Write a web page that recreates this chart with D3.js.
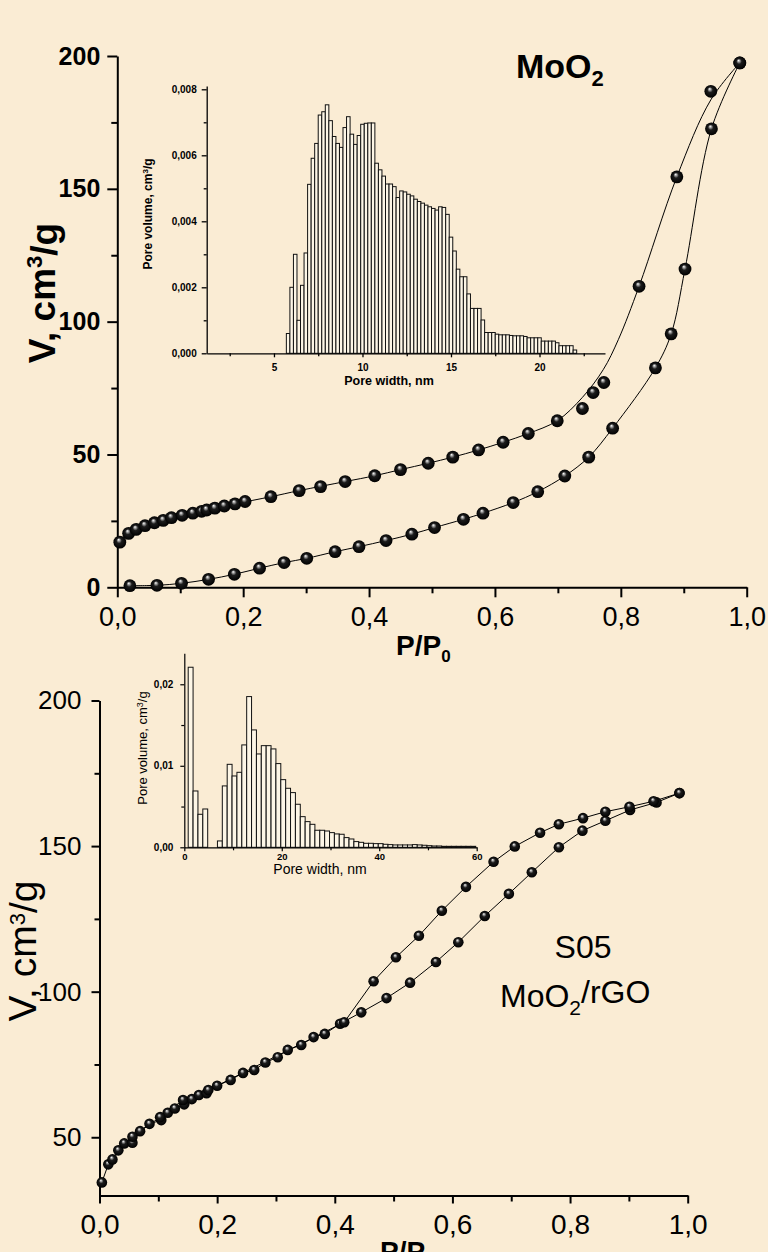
<!DOCTYPE html>
<html>
<head>
<meta charset="utf-8">
<script src="https://cdn.jsdelivr.net/npm/d3@7"></script>
<style>
  html, body { margin: 0; padding: 0; background: #faecd4; }
  svg { display: block; }
  text { font-family: "Liberation Sans", Arial, Helvetica, sans-serif; fill: #000; }
</style>
</head>
<body>
<svg id="fig" width="768" height="1252"></svg>
<script>
// ---------- MoO2 nitrogen isotherm (upper panel) ----------
const moo2AdsP = [0.020, 0.063, 0.102, 0.145, 0.186, 0.226, 0.265, 0.301, 0.346, 0.384, 0.427, 0.468, 0.504,
                  0.550, 0.581, 0.629, 0.668, 0.711, 0.749, 0.787, 0.855, 0.880, 0.902, 0.944, 0.989];
const moo2AdsV = [0.6, 0.75, 1.5, 3.0, 4.9, 7.2, 9.3, 10.9, 13.4, 15.3, 17.6, 20.0, 22.5,
                  25.6, 27.9, 31.9, 36.0, 41.9, 49.0, 59.9, 82.6, 95.4, 119.8, 172.6, 197.4];
const moo2DesP = [0.004, 0.018, 0.030, 0.044, 0.059, 0.073, 0.086, 0.103, 0.120, 0.134, 0.142, 0.155, 0.170,
                  0.187, 0.203, 0.244, 0.289, 0.323, 0.362, 0.409, 0.450, 0.494, 0.533, 0.574, 0.613, 0.653,
                  0.699, 0.739, 0.756, 0.773, 0.829, 0.889, 0.943, 0.989];
const moo2DesV = [17.0, 20.3, 21.8, 23.2, 24.3, 25.2, 26.2, 27.1, 27.9, 28.6, 29.1, 29.8, 30.6,
                  31.4, 32.3, 34.1, 36.4, 37.9, 39.8, 42.0, 44.3, 46.7, 49.0, 51.7, 54.6, 57.9,
                  62.7, 67.3, 73.3, 77.1, 113.3, 154.5, 186.7, 197.4];
// smoothed desorption branch
const moo2DesFitP = [0.0, 0.018, 0.044, 0.073, 0.103, 0.142, 0.187, 0.244, 0.289, 0.362, 0.409, 0.450, 0.494,
                     0.533, 0.574, 0.613, 0.653, 0.699, 0.739, 0.772, 0.796, 0.829, 0.889, 0.943, 0.989];
const moo2DesFitV = [17.0, 20.3, 23.2, 25.2, 27.1, 29.1, 31.4, 34.1, 36.4, 39.8, 42.0, 44.3, 46.7,
                     49.0, 51.7, 54.6, 57.9, 62.7, 71.5, 81.9, 93.2, 113.3, 154.5, 183.5, 197.4];

// MoO2 pore size distribution (0.2 nm bins, centres)
const moo2PoreWidth = d3.range(82).map(i => +(5.8 + 0.2 * i).toFixed(1));
const moo2PoreVol = [0.60, 2.00, 3.00, 1.00, 2.06, 3.04, 5.12, 5.91, 6.36, 7.22, 7.32, 7.53, 7.05, 6.57, 6.36, 6.24,
                     6.84, 7.17, 6.64, 6.33, 6.60, 6.94, 6.97, 6.98, 6.98, 5.76, 5.56, 5.37, 5.13, 5.13, 5.05, 4.72,
                     4.92, 4.89, 4.82, 4.77, 4.67, 4.60, 4.55, 4.49, 4.44, 4.39, 4.34, 4.44, 4.42, 4.21, 3.52, 3.10,
                     2.55, 2.32, 2.32, 1.80, 1.36, 1.36, 1.36, 1.01, 0.63, 0.63, 0.63, 0.58, 0.56, 0.56, 0.56, 0.54,
                     0.53, 0.53, 0.53, 0.51, 0.47, 0.47, 0.47, 0.47, 0.37, 0.37, 0.37, 0.37, 0.32, 0.23, 0.23, 0.23,
                     0.23, 0.10].map(v => v / 1000);

// ---------- S05 MoO2/rGO isotherm (lower panel) ----------
const s05AdsP = [0.004, 0.015, 0.032, 0.042, 0.056, 0.069, 0.085, 0.105, 0.116, 0.128, 0.144, 0.157, 0.169,
                 0.182, 0.200, 0.223, 0.244, 0.263, 0.282, 0.303, 0.320, 0.343, 0.364, 0.383, 0.409, 0.445,
                 0.488, 0.528, 0.572, 0.610, 0.655, 0.696, 0.735, 0.781, 0.821, 0.860, 0.902, 0.947, 0.986];
const s05AdsV = [34.5, 40.7, 45.5, 47.9, 48.1, 52.1, 54.6, 55.9, 58.4, 59.9, 61.3, 63.1, 64.5,
                 65.1, 67.7, 69.7, 72.1, 73.1, 75.7, 77.5, 80.0, 81.7, 84.4, 85.5, 89.0, 92.9,
                 97.8, 103.1, 110.2, 117.0, 126.0, 133.6, 141.0, 149.6, 155.3, 158.7, 162.4, 165.0, 168.2];
const s05DesP = [0.986, 0.942, 0.901, 0.860, 0.822, 0.781, 0.749, 0.706, 0.670, 0.623, 0.582, 0.543, 0.504,
                 0.466, 0.416, 0.185, 0.142, 0.103, 0.056, 0.022];
const s05DesV = [168.2, 165.4, 163.5, 161.8, 159.6, 157.5, 154.6, 149.9, 144.6, 136.0, 127.8, 119.2, 111.8,
                 103.6, 89.5, 66.2, 62.8, 56.9, 50.2, 42.4];

// S05 pore size distribution (1 nm bins, centres)
const s05PoreWidth = d3.range(59).map(i => +(1.3 + i).toFixed(1));
const s05PoreVol = [22.09, 6.91, 4.05, 4.70, 0, 0, 0.78, 7.53, 10.18, 8.75, 9.20, 12.56, 18.49, 14.40, 11.45,
                    12.47, 12.47, 12.07, 10.27, 8.30, 7.24, 6.71, 5.28, 3.76, 3.15, 2.82, 2.09, 2.09, 2.00, 1.80,
                    1.64, 1.60, 1.19, 1.02, 0.70, 0.61, 0.49, 0.49, 0.45, 0.45, 0.37, 0.33, 0.29, 0.29, 0.29,
                    0.29, 0.33, 0.29, 0.25, 0.20, 0.16, 0.16, 0.12, 0.12, 0.12, 0.12, 0.12, 0.12, 0.12]
                    .map(v => v / 1000);

// ---------- tick values ----------
const pTicks = [0, 0.2, 0.4, 0.6, 0.8, 1.0];
const pMinor = [0.1, 0.3, 0.5, 0.7, 0.9];
const topVTicks = [0, 50, 100, 150, 200];
const topVMinor = [25, 75, 125, 175];
const botVTicks = [50, 100, 150, 200];
const botVMinor = [75, 125, 175];
const in1XTicks = [5, 10, 15, 20];
const in1XMinor = [2.5, 7.5, 12.5, 17.5, 22.5];
const in1YTicks = [0, 0.002, 0.004, 0.006, 0.008];
const in1YMinor = [0.001, 0.003, 0.005, 0.007];
const in2XTicks = [0, 20, 40, 60];
const in2XMinor = [10, 30, 50];
const in2YTicks = [0, 0.01, 0.02];
const in2YMinor = [0.005, 0.015];

// ---------- helpers ----------
const loc = d3.formatLocale({decimal: ",", thousands: " ", grouping: [3], currency: ["", ""]});
const f1 = loc.format(".1f"), f2 = loc.format(".2f"), f3 = loc.format(".3f");
const FONT = '"Liberation Sans", Arial, Helvetica, sans-serif';
const NBSP = "\u00A0";

const svg = d3.select("#fig");
svg.append("rect").attr("width", 768).attr("height", 1252).attr("fill", "#faecd4");

const defs = svg.append("defs");
const grad = defs.append("radialGradient").attr("id", "ball")
  .attr("cx", "50%").attr("cy", "50%").attr("r", "50%").attr("fx", "40%").attr("fy", "30%");
grad.append("stop").attr("offset", "0%").attr("stop-color", "#ffffff");
grad.append("stop").attr("offset", "16%").attr("stop-color", "#a8a8a8");
grad.append("stop").attr("offset", "42%").attr("stop-color", "#1c1c1c");
grad.append("stop").attr("offset", "100%").attr("stop-color", "#000000");

function drawAxis(parent, gen, o) {
  const g = parent.append("g").attr("transform", `translate(${o.x || 0},${o.y || 0})`).call(gen);
  g.attr("font-size", null).attr("font-family", null);
  g.select(".domain").attr("stroke", "#000").attr("stroke-width", o.lw);
  if (o.noDomain) g.select(".domain").remove();
  g.selectAll(".tick line").attr("stroke", "#000").attr("stroke-width", o.lw);
  g.selectAll(".tick text").attr("fill", "#000")
    .style("font-family", FONT)
    .style("font-size", (o.fs || 10) + "px")
    .style("font-weight", o.bold ? "bold" : "normal");
  return g;
}

function superText(parent, x, y, rotate, parts, fs, weight, anchor) {
  const t = parent.append("text")
    .attr("transform", `translate(${x},${y})` + (rotate ? ` rotate(${rotate})` : ""))
    .attr("text-anchor", anchor || "middle")
    .style("font-size", fs + "px").style("font-weight", weight);
  parts.forEach(p => {
    const s = t.append("tspan").text(p.t);
    if (p.size) s.style("font-size", p.size + "px");
    if (p.dy) s.attr("dy", p.dy);
  });
  return t;
}

// ================= upper panel: MoO2 =================
const xTop = d3.scaleLinear().domain([0, 1]).range([117.3, 746.7]);
const yTop = d3.scaleLinear().domain([0, 200]).range([587.3, 56]);
const upper = svg.append("g");

drawAxis(upper, d3.axisBottom(xTop).tickValues(pMinor).tickSize(6).tickFormat(""), {y: 587.3, lw: 2, noDomain: true});
drawAxis(upper, d3.axisLeft(yTop).tickValues(topVMinor).tickSize(6).tickFormat(""), {x: 117.3, lw: 2, noDomain: true});
drawAxis(upper, d3.axisBottom(xTop).tickValues(pTicks).tickSize(10).tickSizeOuter(0).tickPadding(10).tickFormat(f1),
  {y: 587.3, lw: 2, fs: 27});
drawAxis(upper, d3.axisLeft(yTop).tickValues(topVTicks).tickSize(10).tickSizeOuter(0).tickPadding(7).tickFormat(d3.format("d")),
  {x: 117.3, lw: 2, fs: 25, bold: true});

const lineTop = d3.line().x(d => xTop(d[0])).y(d => yTop(d[1])).curve(d3.curveCatmullRom.alpha(0.5));
upper.append("path").attr("d", lineTop(d3.zip(moo2AdsP, moo2AdsV)))
  .attr("fill", "none").attr("stroke", "#000").attr("stroke-width", 1);
upper.append("path").attr("d", lineTop(d3.zip(moo2DesFitP, moo2DesFitV)))
  .attr("fill", "none").attr("stroke", "#000").attr("stroke-width", 1);

upper.append("g").selectAll("circle")
  .data(d3.zip(moo2AdsP, moo2AdsV).concat(d3.zip(moo2DesP, moo2DesV)))
  .join("circle")
  .attr("cx", d => xTop(d[0])).attr("cy", d => yTop(d[1])).attr("r", 6.4)
  .attr("fill", "url(#ball)");

superText(upper, 55, 293, -90, [{t: "V," + NBSP + "cm"}, {t: "3", size: 22, dy: "-0.6em"}, {t: "/g", dy: "0.4em"}], 37, "bold");
superText(upper, 396, 655, 0, [{t: "P/P"}, {t: "0", size: 17, dy: "0.4em"}], 28, "bold", "start");
superText(upper, 516, 78, 0, [{t: "MoO"}, {t: "2", size: 22, dy: "0.38em"}], 34, "bold", "start");

// ---- inset: MoO2 pore size distribution ----
const xIn1 = d3.scaleLinear().domain([1.2, 23.7]).range([206.7, 605]);
const yIn1 = d3.scaleLinear().domain([0, 0.0081]).range([353.3, 86]);
const in1 = svg.append("g");
in1.append("g").selectAll("rect")
  .data(d3.zip(moo2PoreWidth, moo2PoreVol))
  .join("rect")
  .attr("x", d => xIn1(d[0] - 0.1)).attr("width", d => xIn1(d[0] + 0.1) - xIn1(d[0] - 0.1))
  .attr("y", d => yIn1(d[1])).attr("height", d => yIn1(0) - yIn1(d[1]))
  .attr("fill", "#fdf6e6").attr("stroke", "#111").attr("stroke-width", 1);
drawAxis(in1, d3.axisBottom(xIn1).tickValues(in1XMinor).tickSize(3).tickFormat(""), {y: 353.3, lw: 1.3, noDomain: true});
drawAxis(in1, d3.axisLeft(yIn1).tickValues(in1YMinor).tickSize(3).tickFormat(""), {x: 206.7, lw: 1.3, noDomain: true});
drawAxis(in1, d3.axisBottom(xIn1).tickValues(in1XTicks).tickSize(4).tickSizeOuter(0).tickPadding(7).tickFormat(d3.format("d")),
  {y: 353.3, lw: 1.3, fs: 10, bold: true});
drawAxis(in1, d3.axisLeft(yIn1).tickValues(in1YTicks).tickSize(5).tickSizeOuter(0).tickPadding(5).tickFormat(f3),
  {x: 206.7, lw: 1.3, fs: 10, bold: true});
superText(in1, 152, 214, -90, [{t: "Pore volume, cm"}, {t: "3", size: 8, dy: "-0.5em"}, {t: "/g", dy: "0.33em"}], 12, "bold");
superText(in1, 389, 385, 0, [{t: "Pore width, nm"}], 12.5, "bold");

// ================= lower panel: S05 MoO2/rGO =================
const xBot = d3.scaleLinear().domain([0, 1]).range([99.5, 687.7]);
const yBot = d3.scaleLinear().domain([30, 200]).range([1195.5, 700.5]);
const lower = svg.append("g");

drawAxis(lower, d3.axisBottom(xBot).tickValues(pMinor).tickSize(6).tickFormat(""), {y: 1195.5, lw: 2, noDomain: true});
drawAxis(lower, d3.axisLeft(yBot).tickValues(botVMinor).tickSize(5).tickFormat(""), {x: 99.5, lw: 2, noDomain: true});
drawAxis(lower, d3.axisBottom(xBot).tickValues(pTicks).tickSize(8).tickSizeOuter(0).tickPadding(11).tickFormat(f1),
  {y: 1195.5, lw: 2, fs: 28});
drawAxis(lower, d3.axisLeft(yBot).tickValues(botVTicks).tickSize(8).tickSizeOuter(0).tickPadding(10).tickFormat(d3.format("d")),
  {x: 99.5, lw: 2, fs: 26});

const lineBot = d3.line().x(d => xBot(d[0])).y(d => yBot(d[1]));
lower.append("path").attr("d", lineBot(d3.zip(s05AdsP, s05AdsV)))
  .attr("fill", "none").attr("stroke", "#000").attr("stroke-width", 1);
lower.append("path").attr("d", lineBot(d3.zip(s05DesP, s05DesV)))
  .attr("fill", "none").attr("stroke", "#000").attr("stroke-width", 1);
lower.append("g").selectAll("circle")
  .data(d3.zip(s05AdsP, s05AdsV).concat(d3.zip(s05DesP, s05DesV)))
  .join("circle")
  .attr("cx", d => xBot(d[0])).attr("cy", d => yBot(d[1])).attr("r", 5.3)
  .attr("fill", "url(#ball)");

superText(lower, 36, 951, -90, [{t: "V," + NBSP + "cm"}, {t: "3", size: 22, dy: "-0.5em"}, {t: "/g", dy: "0.3em"}], 39, "normal");
superText(lower, 380, 1261, 0, [{t: "P/P"}, {t: "0", size: 17, dy: "0.4em"}], 28, "bold", "start");
superText(lower, 583, 958, 0, [{t: "S05"}], 32, "normal");
superText(lower, 500, 1007, 0, [{t: "MoO"}, {t: "2", size: 21, dy: "0.38em"}, {t: "/rGO", dy: "-0.38em"}], 32, "normal", "start");

// ---- inset: S05 pore size distribution ----
const xIn2 = d3.scaleLinear().domain([0, 60]).range([184.3, 476.7]);
const yIn2 = d3.scaleLinear().domain([0, 0.0238]).range([847.3, 653.3]);
const in2 = svg.append("g");
in2.append("g").selectAll("rect")
  .data(d3.zip(s05PoreWidth, s05PoreVol))
  .join("rect")
  .attr("x", d => xIn2(d[0] - 0.5)).attr("width", d => xIn2(d[0] + 0.5) - xIn2(d[0] - 0.5))
  .attr("y", d => yIn2(d[1])).attr("height", d => yIn2(0) - yIn2(d[1]))
  .attr("fill", "#fdf6e6").attr("stroke", "#111").attr("stroke-width", 1);
drawAxis(in2, d3.axisBottom(xIn2).tickValues(in2XMinor).tickSize(3).tickFormat(""), {y: 847.3, lw: 1.2, noDomain: true});
drawAxis(in2, d3.axisLeft(yIn2).tickValues(in2YMinor).tickSize(3).tickFormat(""), {x: 184.3, lw: 1.2, noDomain: true});
drawAxis(in2, d3.axisBottom(xIn2).tickValues(in2XTicks).tickSize(4).tickSizeOuter(0).tickPadding(2).tickFormat(d3.format("d")),
  {y: 847.3, lw: 1.2, fs: 9.5, bold: true});
drawAxis(in2, d3.axisLeft(yIn2).tickValues(in2YTicks).tickSize(4).tickSizeOuter(0).tickPadding(7).tickFormat(f2),
  {x: 184.3, lw: 1.2, fs: 10, bold: true});
superText(in2, 147, 748, -90, [{t: "Pore volume, cm"}, {t: "3", size: 9, dy: "-0.5em"}, {t: "/g", dy: "0.33em"}], 13, "normal");
superText(in2, 320, 874, 0, [{t: "Pore width, nm"}], 14, "normal");
</script>
</body>
</html>
